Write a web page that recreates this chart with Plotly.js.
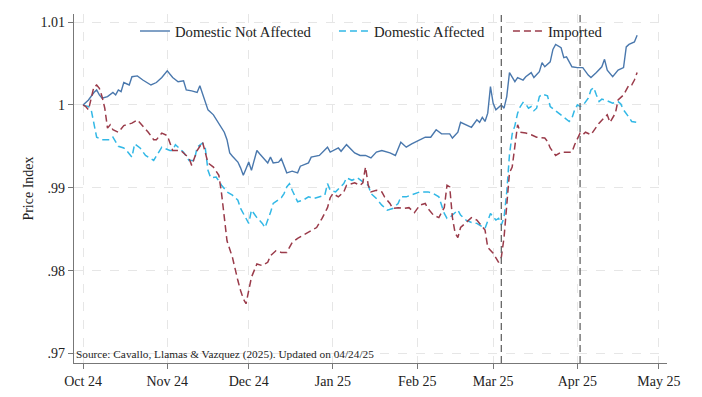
<!DOCTYPE html>
<html>
<head>
<meta charset="utf-8">
<script src="https://cdn.plot.ly/plotly-3.0.1.min.js"></script>
<style>
html,body{margin:0;padding:0;background:#fff;}
#chart{width:702px;height:397px;}
</style>
</head>
<body>
<div id="chart"></div>
<script>
// ---- Data ----
var dnaDates = ["2024-10-01","2024-10-03","2024-10-05","2024-10-06","2024-10-07","2024-10-08","2024-10-10","2024-10-12","2024-10-13","2024-10-14","2024-10-15","2024-10-16","2024-10-18","2024-10-19","2024-10-21","2024-10-23","2024-10-26","2024-10-28","2024-10-30","2024-11-01","2024-11-03","2024-11-05","2024-11-07","2024-11-08","2024-11-10","2024-11-12","2024-11-13","2024-11-15","2024-11-16","2024-11-18","2024-11-20","2024-11-21","2024-11-22","2024-11-23","2024-11-24","2024-11-25","2024-11-27","2024-11-28","2024-11-29","2024-11-30","2024-12-01","2024-12-02","2024-12-04","2024-12-05","2024-12-06","2024-12-08","2024-12-09","2024-12-10","2024-12-12","2024-12-13","2024-12-15","2024-12-17","2024-12-19","2024-12-20","2024-12-23","2024-12-24","2024-12-27","2024-12-30","2024-12-31","2025-01-03","2025-01-04","2025-01-06","2025-01-09","2025-01-11","2025-01-13","2025-01-15","2025-01-17","2025-01-19","2025-01-22","2025-01-24","2025-01-26","2025-01-28","2025-01-30","2025-02-02","2025-02-04","2025-02-06","2025-02-08","2025-02-10","2025-02-13","2025-02-14","2025-02-16","2025-02-17","2025-02-19","2025-02-21","2025-02-23","2025-02-24","2025-02-25","2025-02-26","2025-02-27","2025-02-28","2025-03-01","2025-03-02","2025-03-04","2025-03-05","2025-03-06","2025-03-07","2025-03-09","2025-03-10","2025-03-12","2025-03-13","2025-03-15","2025-03-16","2025-03-18","2025-03-19","2025-03-20","2025-03-22","2025-03-23","2025-03-24","2025-03-26","2025-03-27","2025-03-28","2025-03-30","2025-04-01","2025-04-03","2025-04-05","2025-04-06","2025-04-08","2025-04-10","2025-04-11","2025-04-12","2025-04-14","2025-04-16","2025-04-18","2025-04-19","2025-04-20","2025-04-22","2025-04-23"];
var dnaVals = [1.0000,1.0006,1.0015,1.0018,1.0012,1.0008,1.0010,1.0015,1.0012,1.0018,1.0016,1.0027,1.0024,1.0034,1.0035,1.0030,1.0024,1.0027,1.0033,1.0041,1.0033,1.0028,1.0029,1.0018,1.0017,1.0015,1.0023,1.0005,0.9994,0.9988,0.9978,0.9972,0.9967,0.9958,0.9942,0.9938,0.9931,0.9924,0.9915,0.9923,0.9931,0.9921,0.9945,0.9941,0.9937,0.9930,0.9937,0.9930,0.9931,0.9935,0.9918,0.9920,0.9918,0.9926,0.9930,0.9937,0.9939,0.9949,0.9943,0.9948,0.9944,0.9952,0.9942,0.9939,0.9939,0.9936,0.9943,0.9945,0.9942,0.9939,0.9955,0.9949,0.9953,0.9958,0.9961,0.9961,0.9970,0.9965,0.9965,0.9960,0.9967,0.9979,0.9976,0.9973,0.9982,0.9979,0.9985,0.9980,0.9990,1.0022,1.0002,0.9994,1.0000,0.9996,1.0010,1.0039,1.0028,1.0033,1.0030,1.0034,1.0039,1.0033,1.0040,1.0051,1.0046,1.0052,1.0067,1.0073,1.0069,1.0057,1.0058,1.0046,1.0045,1.0045,1.0036,1.0033,1.0039,1.0046,1.0055,1.0042,1.0034,1.0042,1.0045,1.0070,1.0073,1.0076,1.0084];

var daDates = ["2024-10-01","2024-10-03","2024-10-04","2024-10-06","2024-10-08","2024-10-11","2024-10-12","2024-10-14","2024-10-16","2024-10-17","2024-10-19","2024-10-20","2024-10-22","2024-10-24","2024-10-27","2024-10-29","2024-10-30","2024-11-02","2024-11-03","2024-11-04","2024-11-07","2024-11-09","2024-11-11","2024-11-12","2024-11-14","2024-11-15","2024-11-16","2024-11-17","2024-11-19","2024-11-21","2024-11-23","2024-11-25","2024-11-27","2024-11-28","2024-11-30","2024-12-01","2024-12-02","2024-12-04","2024-12-06","2024-12-07","2024-12-09","2024-12-10","2024-12-13","2024-12-14","2024-12-15","2024-12-16","2024-12-17","2024-12-19","2024-12-21","2024-12-23","2024-12-25","2024-12-27","2024-12-29","2024-12-30","2024-12-31","2025-01-02","2025-01-04","2025-01-05","2025-01-06","2025-01-08","2025-01-10","2025-01-11","2025-01-12","2025-01-14","2025-01-15","2025-01-17","2025-01-19","2025-01-21","2025-01-23","2025-01-25","2025-01-26","2025-01-28","2025-01-31","2025-02-02","2025-02-04","2025-02-05","2025-02-07","2025-02-09","2025-02-11","2025-02-12","2025-02-13","2025-02-15","2025-02-16","2025-02-17","2025-02-19","2025-02-21","2025-02-23","2025-02-24","2025-02-26","2025-02-28","2025-03-02","2025-03-03","2025-03-04","2025-03-05","2025-03-06","2025-03-07","2025-03-08","2025-03-09","2025-03-10","2025-03-11","2025-03-12","2025-03-13","2025-03-14","2025-03-15","2025-03-16","2025-03-17","2025-03-18","2025-03-19","2025-03-20","2025-03-21","2025-03-22","2025-03-24","2025-03-26","2025-03-28","2025-03-29","2025-03-30","2025-03-31","2025-04-01","2025-04-02","2025-04-03","2025-04-05","2025-04-06","2025-04-07","2025-04-08","2025-04-09","2025-04-10","2025-04-12","2025-04-14","2025-04-16","2025-04-17","2025-04-18","2025-04-20","2025-04-21","2025-04-23"];
var daVals = [1.0000,0.9998,0.9994,0.9961,0.9958,0.9958,0.9961,0.9950,0.9948,0.9945,0.9937,0.9953,0.9948,0.9939,0.9933,0.9943,0.9949,0.9945,0.9945,0.9952,0.9943,0.9933,0.9933,0.9949,0.9954,0.9948,0.9921,0.9912,0.9913,0.9903,0.9895,0.9891,0.9885,0.9875,0.9864,0.9857,0.9873,0.9864,0.9857,0.9852,0.9870,0.9881,0.9888,0.9893,0.9901,0.9905,0.9897,0.9883,0.9885,0.9889,0.9887,0.9889,0.9891,0.9905,0.9897,0.9895,0.9901,0.9905,0.9912,0.9909,0.9912,0.9909,0.9907,0.9903,0.9893,0.9887,0.9879,0.9873,0.9875,0.9881,0.9889,0.9889,0.9893,0.9895,0.9895,0.9895,0.9893,0.9889,0.9869,0.9863,0.9864,0.9870,0.9873,0.9867,0.9861,0.9858,0.9857,0.9855,0.9851,0.9869,0.9861,0.9863,0.9855,0.9864,0.9895,0.9940,0.9965,0.9975,0.9990,0.9998,1.0003,1.0001,0.9996,0.9998,0.9993,0.9996,1.0010,1.0013,1.0012,1.0011,0.9998,0.9993,0.9988,0.9983,0.9980,0.9984,0.9994,1.0000,0.9998,0.9999,1.0008,1.0018,1.0021,1.0012,1.0004,1.0007,1.0005,1.0002,1.0004,1.0001,0.9994,0.9985,0.9980,0.9979];

var impDates = ["2024-10-01","2024-10-02","2024-10-03","2024-10-04","2024-10-05","2024-10-06","2024-10-07","2024-10-08","2024-10-09","2024-10-10","2024-10-11","2024-10-12","2024-10-14","2024-10-16","2024-10-17","2024-10-19","2024-10-21","2024-10-23","2024-10-25","2024-10-27","2024-10-28","2024-10-30","2024-11-01","2024-11-02","2024-11-03","2024-11-06","2024-11-09","2024-11-10","2024-11-12","2024-11-14","2024-11-15","2024-11-16","2024-11-18","2024-11-20","2024-11-21","2024-11-22","2024-11-23","2024-11-25","2024-11-26","2024-11-27","2024-11-28","2024-11-29","2024-11-30","2024-12-01","2024-12-02","2024-12-04","2024-12-06","2024-12-08","2024-12-09","2024-12-11","2024-12-13","2024-12-15","2024-12-17","2024-12-19","2024-12-21","2024-12-23","2024-12-26","2024-12-28","2024-12-30","2024-12-31","2025-01-01","2025-01-03","2025-01-05","2025-01-06","2025-01-09","2025-01-11","2025-01-12","2025-01-13","2025-01-14","2025-01-15","2025-01-17","2025-01-19","2025-01-20","2025-01-22","2025-01-23","2025-01-25","2025-01-27","2025-01-29","2025-01-31","2025-02-02","2025-02-04","2025-02-05","2025-02-07","2025-02-09","2025-02-11","2025-02-12","2025-02-13","2025-02-14","2025-02-15","2025-02-16","2025-02-17","2025-02-19","2025-02-21","2025-02-23","2025-02-24","2025-02-26","2025-02-27","2025-03-01","2025-03-03","2025-03-04","2025-03-05","2025-03-06","2025-03-07","2025-03-08","2025-03-09","2025-03-10","2025-03-11","2025-03-13","2025-03-15","2025-03-17","2025-03-20","2025-03-21","2025-03-22","2025-03-24","2025-03-26","2025-03-28","2025-03-30","2025-03-31","2025-04-01","2025-04-02","2025-04-03","2025-04-04","2025-04-06","2025-04-08","2025-04-09","2025-04-11","2025-04-12","2025-04-13","2025-04-15","2025-04-16","2025-04-18","2025-04-20","2025-04-21","2025-04-22","2025-04-23"];
var impVals = [1.0000,0.9998,0.9994,1.0010,1.0022,1.0024,1.0020,1.0010,0.9996,0.9972,0.9976,0.9970,0.9967,0.9975,0.9976,0.9978,0.9982,0.9975,0.9967,0.9958,0.9958,0.9966,0.9963,0.9954,0.9945,0.9945,0.9936,0.9927,0.9945,0.9955,0.9942,0.9930,0.9925,0.9915,0.9893,0.9864,0.9836,0.9816,0.9800,0.9788,0.9776,0.9766,0.9760,0.9776,0.9792,0.9808,0.9806,0.9810,0.9818,0.9824,0.9822,0.9822,0.9834,0.9839,0.9843,0.9846,0.9852,0.9863,0.9876,0.9888,0.9893,0.9889,0.9895,0.9903,0.9906,0.9903,0.9906,0.9925,0.9903,0.9895,0.9897,0.9895,0.9889,0.9881,0.9875,0.9876,0.9875,0.9876,0.9870,0.9879,0.9881,0.9875,0.9867,0.9864,0.9876,0.9903,0.9901,0.9864,0.9845,0.9840,0.9852,0.9858,0.9864,0.9861,0.9857,0.9849,0.9828,0.9821,0.9810,0.9816,0.9840,0.9885,0.9918,0.9925,0.9950,0.9976,0.9967,0.9966,0.9964,0.9961,0.9960,0.9956,0.9948,0.9939,0.9943,0.9943,0.9943,0.9952,0.9960,0.9966,0.9964,0.9967,0.9964,0.9973,0.9978,0.9985,0.9988,0.9979,0.9990,1.0006,1.0012,1.0024,1.0024,1.0030,1.0039];

var seriesNames = ["Domestic Not Affected", "Domestic Affected", "Imported"];
var yTickVals = [0.97, 0.98, 0.99, 1.00, 1.01];
var yTickText = [".97", ".98", ".99", "1", "1.01"];
var eventDates = ["2025-03-04", "2025-04-02"];
var sourceNote = "Source: Cavallo, Llamas &amp; Vazquez (2025). Updated on 04/24/25";

// ---- Chart ----
var FONT = "Liberation Serif";
var traces = [
  {x: dnaDates, y: dnaVals, name: seriesNames[0], type: "scatter", mode: "lines",
   legend: "legend", line: {color: "#4a78ad", width: 1.4}},
  {x: daDates, y: daVals, name: seriesNames[1], type: "scatter", mode: "lines",
   legend: "legend2", line: {color: "#32b8e6", width: 1.5, dash: "7px,4px"}},
  {x: impDates, y: impVals, name: seriesNames[2], type: "scatter", mode: "lines",
   legend: "legend3", line: {color: "#9a3b4a", width: 1.5, dash: "7px,4px"}}
];

var shapes = eventDates.map(function(d){
  return {type: "line", xref: "x", yref: "paper", x0: d, x1: d, y0: 0, y1: 1,
          line: {color: "#666666", width: 1.3, dash: "7px,4px"}, layer: "above"};
});

function legendAt(xp){
  return {orientation: "h", x: xp, xanchor: "left", y: 0.95, yanchor: "middle",
          bgcolor: "rgba(255,255,255,0)", font: {family: FONT, size: 14.7, color: "#222"},
          itemwidth: 30};
}

var layout = {
  width: 702, height: 397,
  margin: {l: 74, r: 35, t: 14, b: 34},
  paper_bgcolor: "#ffffff", plot_bgcolor: "#ffffff",
  font: {family: FONT, size: 14, color: "#222"},
  showlegend: true,
  legend: legendAt(0.1028),
  legend2: legendAt(0.4384),
  legend3: legendAt(0.7318),
  xaxis: {
    type: "date", range: ["2024-09-27 16:00", "2025-05-04"],
    dtick: "M1", tick0: "2024-10-01", tickformat: "%b %y",
    ticks: "outside", ticklen: 5, tickcolor: "#777",
    showline: true, linecolor: "#777", linewidth: 1.3,
    showgrid: true, gridcolor: "#e6e6e6", griddash: "dash", gridwidth: 1,
    zeroline: false, tickfont: {family: FONT, size: 14, color: "#222"}
  },
  yaxis: {
    range: [0.96885, 1.01097],
    tickvals: yTickVals, ticktext: yTickText,
    ticks: "outside", ticklen: 5, tickcolor: "#777",
    showline: true, linecolor: "#777", linewidth: 1.3,
    showgrid: true, gridcolor: "#e6e6e6", griddash: "dash", gridwidth: 1,
    zeroline: false, tickfont: {family: FONT, size: 14, color: "#222"},
    title: {text: "Price Index", font: {family: FONT, size: 14, color: "#222"}, standoff: 3}
  },
  shapes: shapes,
  annotations: [{
    text: sourceNote, xref: "paper", yref: "paper", x: 0, y: 0,
    xanchor: "left", yanchor: "bottom", showarrow: false, xshift: 0, yshift: 0,
    font: {family: FONT, size: 11.3, color: "#222"}
  }]
};

Plotly.newPlot("chart", traces, layout, {displayModeBar: false, staticPlot: true});
</script>
</body>
</html>
